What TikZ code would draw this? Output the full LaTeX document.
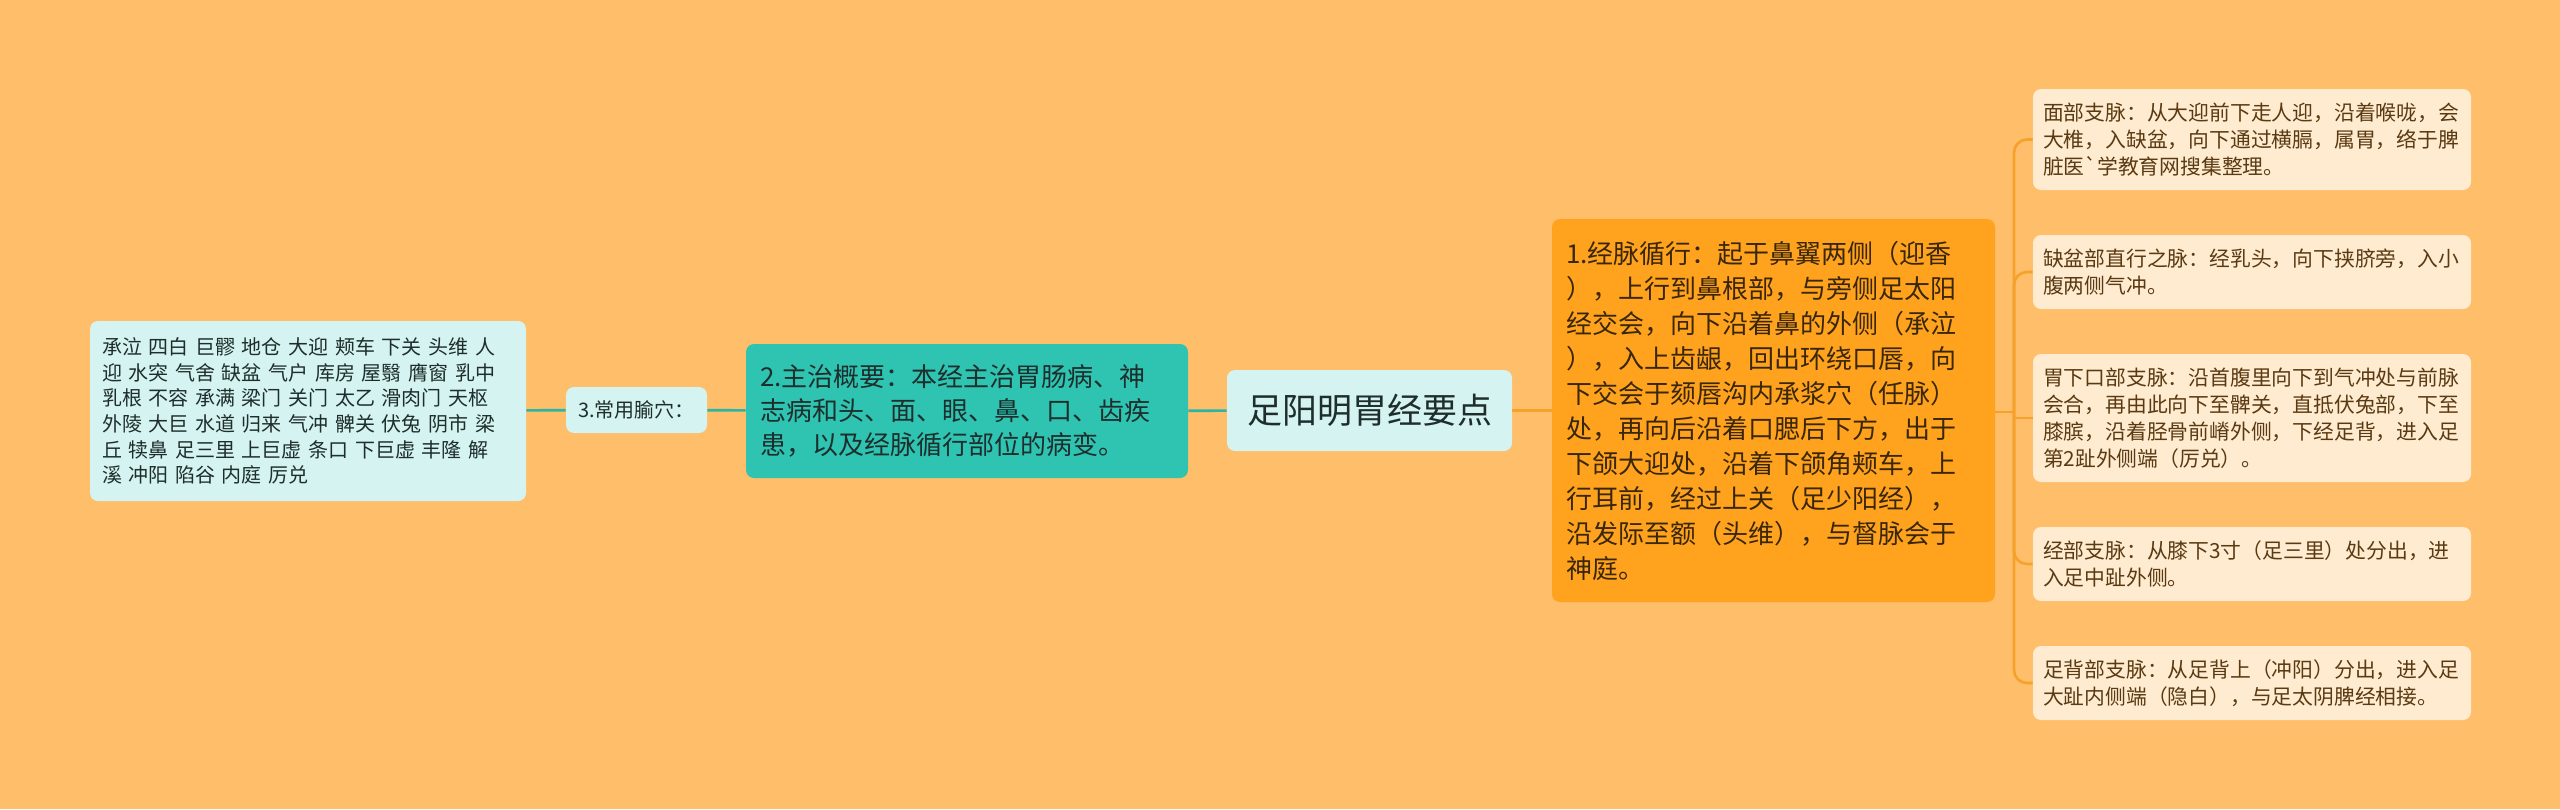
\documentclass[tikz,border=0pt]{standalone}
\usepackage{fontspec}
\setmainfont{Noto Sans CJK SC}
\definecolor{bgc}{HTML}{FFBE6A}
\definecolor{lcyan}{HTML}{D5F3F0}
\definecolor{tealfill}{HTML}{2EC4B1}
\definecolor{tealline}{HTML}{2BB5A3}
\definecolor{orfill}{HTML}{FFA31F}
\definecolor{orline}{HTML}{F5A12A}
\definecolor{lcream}{HTML}{FFEBD0}
\definecolor{tdark}{HTML}{1E2E2C}
\definecolor{tbrown}{HTML}{5A3A12}
\definecolor{tbrowndk}{HTML}{3A2608}
\begin{document}
\begin{tikzpicture}[x=0.5pt,y=-0.5pt,
  box/.style={rounded corners=4pt, inner ysep=0pt, align=left},
  cyanbox/.style={box, fill=lcyan, text=tdark},
  leaf/.style={box, fill=lcream, text=tbrown, inner xsep=5pt, text width=209pt,
    minimum width=219pt, font=\fontsize{10.4pt}{13.5pt}\selectfont},
  tealln/.style={draw=tealline, line width=1.3pt},
  orln/.style={draw=orline, line width=1.3pt, rounded corners=6.5pt}]
\fill[bgc] (0,0) rectangle (2560,809);
\useasboundingbox (0,0) rectangle (2560,809);

% centre
\node[cyanbox, align=center, inner xsep=0pt, minimum width=142.5pt, minimum height=40.5pt,
  font=\fontsize{17.5pt}{21pt}\selectfont] (root) at (1369.5,410.5) {足阳明胃经要点};

% left side
\node[box, fill=tealfill, text=tdark, inner xsep=7pt, text width=207pt, minimum height=67pt,
  font=\fontsize{13pt}{17pt}\selectfont] (zz) at (967,411)
  {2.主治概要：本经主治胃肠病、神\\志病和头、面、眼、鼻、口、齿疾\\患，以及经脉循行部位的病变。};
\node[cyanbox, align=center, inner xsep=0pt, minimum width=70.5pt, minimum height=23pt,
  font=\fontsize{10pt}{12pt}\selectfont] (yx) at (636.5,410) {3.常用腧穴：};
\node[cyanbox, inner xsep=6pt, text width=206pt, minimum height=90pt,
  font=\fontsize{10pt}{12.85pt}\selectfont] (acu) at (308,411)
  {承泣 四白 巨髎 地仓 大迎 颊车 下关 头维 人\\迎 水突 气舍 缺盆 气户 库房 屋翳 膺窗 乳中\\乳根 不容 承满 梁门 关门 太乙 滑肉门 天枢\\外陵 大巨 水道 归来 气冲 髀关 伏兔 阴市 梁\\丘 犊鼻 足三里 上巨虚 条口 下巨虚 丰隆 解\\溪 冲阳 陷谷 内庭 厉兑};

% right side
\node[box, fill=orfill, text=tbrowndk, inner xsep=7pt, text width=207.5pt, minimum height=191.5pt,
  font=\fontsize{13pt}{17.5pt}\selectfont] (xh) at (1773.5,410.5)
  {1.经脉循行：起于鼻翼两侧（迎香\\），上行到鼻根部，与旁侧足太阳\\经交会，向下沿着鼻的外侧（承泣\\），入上齿龈，回出环绕口唇，向\\下交会于颏唇沟内承浆穴（任脉）\\处，再向后沿着口腮后下方，出于\\下颌大迎处，沿着下颌角颊车，上\\行耳前，经过上关（足少阳经），\\沿发际至额（头维），与督脉会于\\神庭。};
\node[leaf, minimum height=50.5pt] (rA) at (2252,139.5)
  {面部支脉：从大迎前下走人迎，沿着喉咙，会\\大椎，入缺盆，向下通过横膈，属胃，络于脾\\脏医\textasciigrave 学教育网搜集整理。};
\node[leaf, minimum height=37pt] (rB) at (2252,272)
  {缺盆部直行之脉：经乳头，向下挟脐旁，入小\\腹两侧气冲。};
\node[leaf, minimum height=64pt] (rC) at (2252,418)
  {胃下口部支脉：沿首腹里向下到气冲处与前脉\\会合，再由此向下至髀关，直抵伏兔部，下至\\膝膑，沿着胫骨前嵴外侧，下经足背，进入足\\第2趾外侧端（厉兑）。};
\node[leaf, minimum height=37pt] (rD) at (2252,564)
  {经部支脉：从膝下3寸（足三里）处分出，进\\入足中趾外侧。};
\node[leaf, minimum height=37pt] (rE) at (2252,683)
  {足背部支脉：从足背上（冲阳）分出，进入足\\大趾内侧端（隐白），与足太阴脾经相接。};

% connectors
\draw[tealln] (root) -- (zz);
\draw[tealln] (zz) -- (yx);
\draw[tealln] (yx) -- (acu);
\coordinate (bus) at (2014,412);
\draw[orln] (root) -- (xh);
\draw[orln] (xh.east |- bus) -- (bus);
\foreach \n in {rA,rB,rD,rE}
  \draw[orln] (bus) |- (\n.west);
\draw[orln, sharp corners] (bus) |- (rC.west);
\end{tikzpicture}
\end{document}
